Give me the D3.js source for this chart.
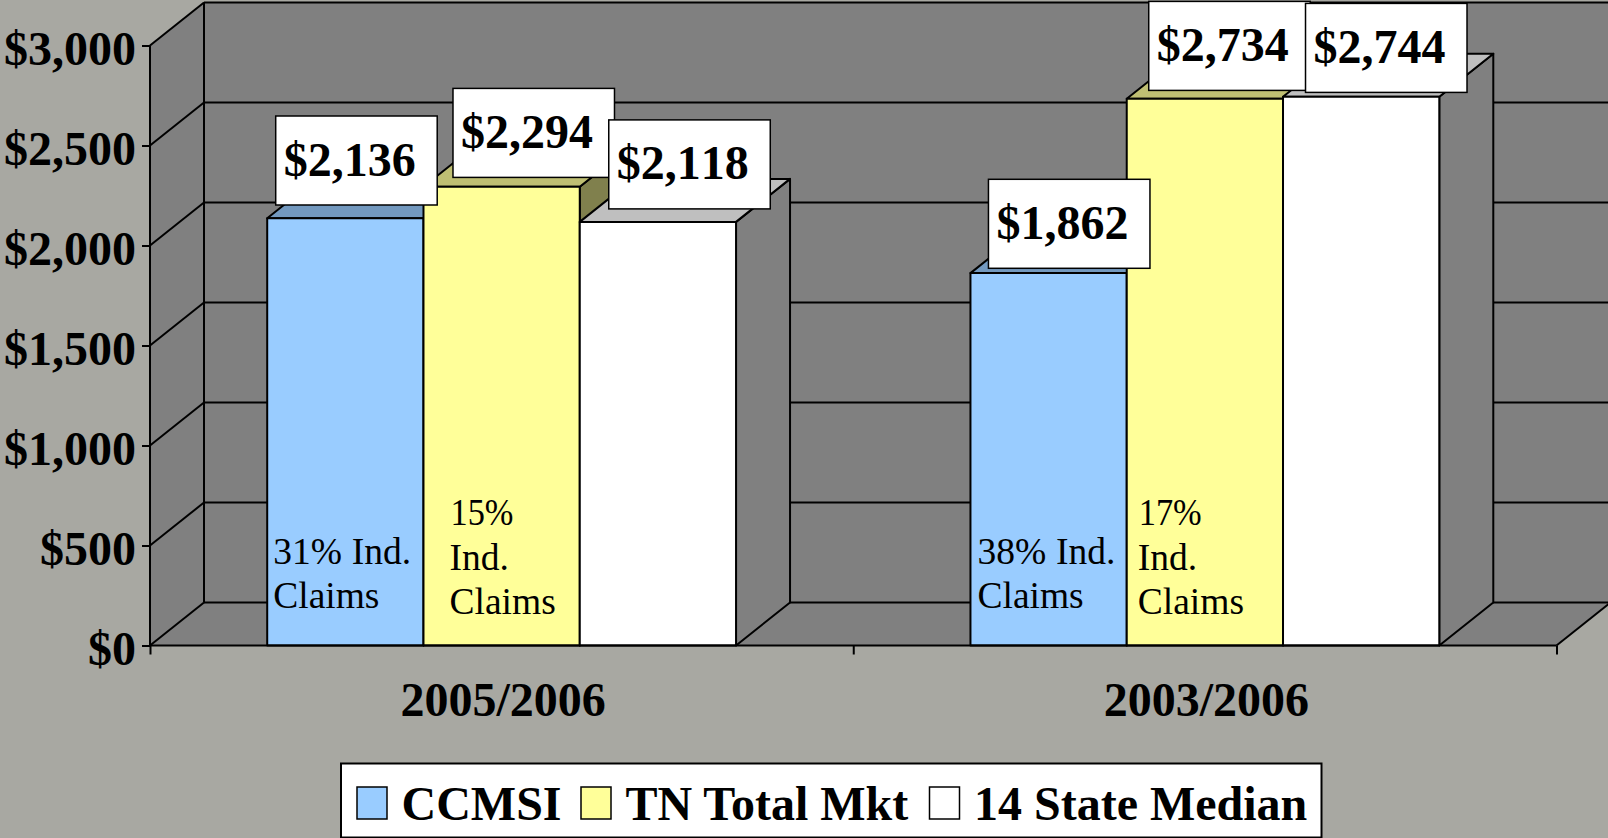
<!DOCTYPE html>
<html>
<head>
<meta charset="utf-8">
<script src="https://cdn.jsdelivr.net/npm/d3@7"></script>
<style>
	html, body { margin: 0; padding: 0; background: #a8a8a2; overflow: hidden; }
	svg { display: block; }
	text { font-family: "Liberation Serif", serif; fill: #000; font-kerning: none; }
	.axis path, .axis line { stroke: #000; stroke-width: 2; }
	.axis text { font-size: 48px; font-weight: bold; font-family: "Liberation Serif", serif; }
	.g_legend text { font-kerning: normal; }
</style>
</head>
<body>
<svg id="chart" width="1608" height="838"></svg>
<script>
const categories = ['2005/2006', '2003/2006'];
const seriesNames = ['CCMSI', 'TN Total Mkt', '14 State Median'];
const ccmsi = [2136, 1862];
const tnTotalMkt = [2294, 2734];
const stateMedian = [2118, 2744];
const yTicks = [0, 500, 1000, 1500, 2000, 2500, 3000];
const ccmsiNotes = [['31% Ind.', 'Claims'], ['38% Ind.', 'Claims']];
const tnNotes = [['15%', 'Ind.', 'Claims'], ['17%', 'Ind.', 'Claims']];

// layout, moved by hand in the original so kept apart from the values
const gL = {left: 150, right: 1556.5, top: 45.5, bottom: 645.5, dx: 54, dy: 43};
const labelBox = {w: 161.5, h: 89};
const labelShift = [
	[[8.5, -102.3], [18, -93.8]],
	[[29.5, -98.3], [22, -97.3]],
	[[29, -102], [22.5, -93.3]]
];
const fills = [
	{front: '#99ccff', top: '#7399bf', side: '#4d6680'},
	{front: '#ffff99', top: '#bfbf73', side: '#80804d'},
	{front: '#ffffff', top: '#bfbfbf', side: '#808080'}
];
const wallColor = '#808080';

const values = [ccmsi, tnTotalMkt, stateMedian];
const money = v => '$' + d3.format(',')(v);

const svg = d3.select('#chart');

const y = d3.scaleLinear().domain([0, 3000]).range([gL.bottom, gL.top]);
const xCat = d3.scaleBand().domain(categories).range([gL.left, gL.right]);
const xSer = d3.scaleBand().domain(seriesNames)
	.range([0, xCat.bandwidth()])
	.paddingInner(0).paddingOuter(0.75);
const xEdge = d3.scaleLinear().domain([0, categories.length]).range([gL.left, gL.right]);

const pts = arr => arr.map(p => p.join(',')).join(' ');
const { dx, dy } = gL;

// walls and floor
const gWalls = svg.append('g').attr('class', 'g_walls');
gWalls.append('polygon')
	.attr('points', pts([
		[gL.left + dx, y(3000) - dy], [1610, y(3000) - dy], [1610, y(0) - dy], [gL.left + dx, y(0) - dy]
	]))
	.attr('fill', wallColor);
gWalls.append('polygon')
	.attr('points', pts([
		[gL.left, y(3000)], [gL.left + dx, y(3000) - dy], [gL.left + dx, y(0) - dy], [gL.left, y(0)]
	]))
	.attr('fill', wallColor);
gWalls.append('polygon')
	.attr('points', pts([
		[gL.left, y(0)], [gL.right, y(0)], [gL.right + dx, y(0) - dy], [gL.left + dx, y(0) - dy]
	]))
	.attr('fill', wallColor);

// grid, along the back wall and down the side wall
const gGrid = svg.append('g').attr('class', 'g_grid')
	.attr('stroke', '#000').attr('stroke-width', 2);
gGrid.selectAll('.back_line')
	.data(yTicks).enter()
	.append('line')
	.attr('class', 'back_line')
	.attr('x1', gL.left + dx).attr('x2', 1610)
	.attr('y1', d => y(d) - dy).attr('y2', d => y(d) - dy);
gGrid.selectAll('.side_line')
	.data(yTicks).enter()
	.append('line')
	.attr('class', 'side_line')
	.attr('x1', gL.left).attr('x2', gL.left + dx)
	.attr('y1', d => y(d)).attr('y2', d => y(d) - dy);
gGrid.append('line')
	.attr('x1', gL.left + dx).attr('x2', gL.left + dx)
	.attr('y1', y(3000) - dy).attr('y2', y(0) - dy);
gGrid.append('line')
	.attr('x1', gL.right).attr('x2', gL.right + dx)
	.attr('y1', y(0)).attr('y2', y(0) - dy);

// bars
const barX = (c, s) => xCat(categories[c]) + xSer(seriesNames[s]);
const gBars = svg.append('g').attr('class', 'g_bars')
	.attr('stroke', '#000').attr('stroke-width', 2).attr('stroke-linejoin', 'round');

categories.forEach((cat, c) => {
	seriesNames.forEach((name, s) => {
		const x0 = barX(c, s),
			x1 = x0 + xSer.bandwidth(),
			yTop = y(values[s][c]),
			gBar = gBars.append('g').attr('class', 'g_bar');

		gBar.append('polygon')
			.attr('points', pts([
				[x1, yTop], [x1 + dx, yTop - dy], [x1 + dx, y(0) - dy], [x1, y(0)]
			]))
			.attr('fill', fills[s].side);
		gBar.append('polygon')
			.attr('points', pts([
				[x0, yTop], [x0 + dx, yTop - dy], [x1 + dx, yTop - dy], [x1, yTop]
			]))
			.attr('fill', fills[s].top);
		gBar.append('rect')
			.attr('x', x0)
			.attr('y', yTop)
			.attr('width', xSer.bandwidth())
			.attr('height', y(0) - yTop)
			.attr('fill', fills[s].front);
	});
});

// axes
const axisLeft = d3.axisLeft(y)
	.tickValues(yTicks)
	.tickSize(8)
	.tickPadding(6)
	.tickFormat(money);
svg.append('g')
	.attr('class', 'axis axis_y')
	.attr('transform', 'translate(' + gL.left + ',0)')
	.call(axisLeft)
	.call(g => g.select('.domain').attr('d', 'M0,' + y(3000) + 'V' + y(0)))
	.call(g => g.selectAll('text').attr('dy', 19));

const axisBottom = d3.axisBottom(xEdge)
	.tickValues(d3.range(categories.length + 1))
	.tickSize(9)
	.tickFormat('');
svg.append('g')
	.attr('class', 'axis axis_x')
	.attr('transform', 'translate(0,' + gL.bottom + ')')
	.call(axisBottom)
	.call(g => g.select('.domain').attr('d', 'M' + gL.left + ',0H' + gL.right));

svg.append('g')
	.attr('class', 'g_cat_labels')
	.selectAll('text')
	.data(categories).enter()
	.append('text')
	.attr('x', d => xCat(d) + xCat.bandwidth() / 2 + 1.5)
	.attr('y', 715.5)
	.attr('text-anchor', 'middle')
	.attr('font-size', 48)
	.attr('font-weight', 'bold')
	.text(d => d);

// notes inside the bars
function drawNotes(notes, s, xPad, lastBaseline) {
	notes.forEach((lines, c) => {
		const x0 = barX(c, s) + xPad[c];
		lines.forEach((line, i) => {
			const note = svg.append('text')
				.attr('x', x0 + (s === 1 && i === 0 ? 1 : 0))
				.attr('y', lastBaseline - (lines.length - 1 - i) * 44.3)
				.attr('font-size', 37.5)
				.attr('word-spacing', 0.5)
				.text(line);
			// the percent sign is narrower in the original
			if (s === 1 && i === 0) {
				note.attr('textLength', 63).attr('lengthAdjust', 'spacingAndGlyphs');
			}
		});
	});
}
drawNotes(ccmsiNotes, 0, [6, 7], 608);
drawNotes(tnNotes, 1, [26, 11], 614);

// data labels
const gLabels = svg.append('g').attr('class', 'g_labels');
categories.forEach((cat, c) => {
	seriesNames.forEach((name, s) => {
		const shift = labelShift[s][c],
			xL = barX(c, s) + shift[0],
			yL = y(values[s][c]) + shift[1],
			gLabel = gLabels.append('g').attr('transform', 'translate(' + xL + ',' + yL + ')');

		gLabel.append('rect')
			.attr('width', labelBox.w)
			.attr('height', labelBox.h)
			.attr('fill', '#fff')
			.attr('stroke', '#000')
			.attr('stroke-width', 1.5);
		gLabel.append('text')
			.attr('x', 8)
			.attr('y', 59.5)
			.attr('font-size', 48)
			.attr('font-weight', 'bold')
			.text(money(values[s][c]));
	});
});

// legend
const gLegend = svg.append('g').attr('class', 'g_legend');
gLegend.append('rect')
	.attr('x', 341).attr('y', 763.5)
	.attr('width', 980.5).attr('height', 74)
	.attr('fill', '#fff')
	.attr('stroke', '#000')
	.attr('stroke-width', 2);

const legendX = d3.scaleOrdinal().domain(seriesNames).range([357, 581, 929.5]);
const gItems = gLegend.selectAll('.g_legend_item')
	.data(seriesNames).enter()
	.append('g')
	.attr('class', 'g_legend_item')
	.attr('transform', d => 'translate(' + legendX(d) + ',787)');
gItems.append('rect')
	.attr('width', 30)
	.attr('height', 32)
	.attr('fill', (d, i) => fills[i].front)
	.attr('stroke', '#000')
	.attr('stroke-width', 1.5);
gItems.append('text')
	.attr('x', 44.5)
	.attr('y', 33)
	.attr('font-size', 48)
	.attr('font-weight', 'bold')
	.text(d => d);
</script>
</body>
</html>
